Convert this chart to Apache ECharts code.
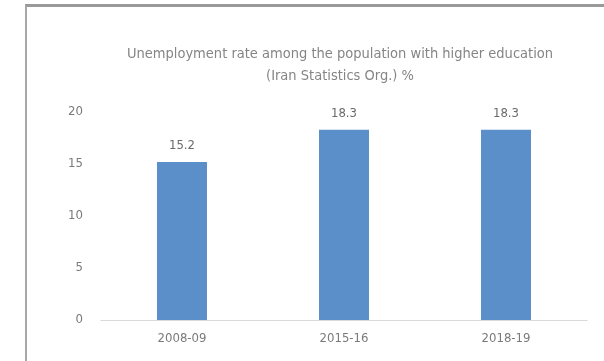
<!DOCTYPE html>
<html>
<head>
<meta charset="utf-8">
<script src="https://cdn.jsdelivr.net/npm/echarts@6/dist/echarts.min.js"></script>
<style>
html,body{margin:0;padding:0;background:#fff;}
#frame{position:absolute;left:25px;top:4px;width:700px;height:500px;border-top:3px solid #9a9a9a;border-left:2px solid #a8a8a8;box-sizing:border-box;}
#chart{position:absolute;left:0;top:0;width:604px;height:361px;}
</style>
</head>
<body>
<div id="frame"></div>
<div id="chart"></div>
<script>
const titleLines = ["Unemployment rate among the population with higher education", "(Iran Statistics Org.) %"];
const categories = ["2008-09", "2015-16", "2018-19"];
const values = [15.2, 18.3, 18.3];
const yTicks = [0, 5, 10, 15, 20];

const fontFam = '"Liberation Sans Narrow", "DejaVu Sans Condensed", sans-serif';
const chart = echarts.init(document.getElementById('chart'), null, {renderer: 'canvas'});
chart.setOption({
  backgroundColor: 'transparent',
  animation: false,
  title: {
    text: titleLines.join('\n'),
    left: 335, top: 38, textAlign: 'center',
    textStyle: {fontFamily: fontFam, fontSize: 14.5, fontWeight: 'normal', color: '#858585', lineHeight: 22}
  },
  grid: {left: 101, right: 17, top: 112, bottom: 41, containLabel: false},
  xAxis: {
    type: 'category', data: categories,
    axisLine: {lineStyle: {color: '#d9d9d9', width: 1}},
    axisTick: {show: false},
    axisLabel: {fontFamily: fontFam, fontSize: 13, color: '#7a7a7a', margin: 12}
  },
  yAxis: {
    type: 'value', min: yTicks[0], max: yTicks[yTicks.length-1], interval: 5,
    axisLine: {show: false}, axisTick: {show: false},
    splitLine: {show: false},
    axisLabel: {fontFamily: fontFam, fontSize: 13, color: '#7a7a7a', margin: 18}
  },
  series: [{
    type: 'bar', data: values, barWidth: 50,
    itemStyle: {color: '#5a8fc9'},
    label: {show: true, position: 'top', distance: 10, fontFamily: fontFam, fontSize: 13, color: '#6a6a6a'}
  }]
});
</script>
</body>
</html>
